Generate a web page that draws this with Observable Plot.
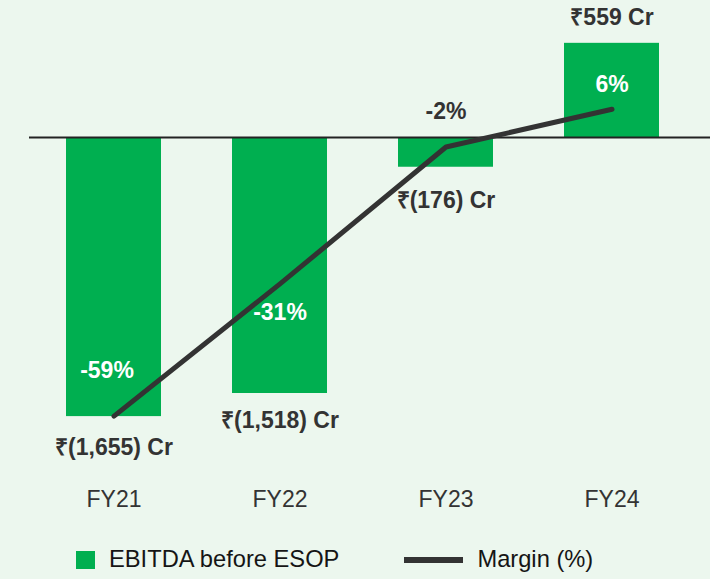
<!DOCTYPE html>
<html>
<head>
<meta charset="utf-8">
<script src="https://cdn.jsdelivr.net/npm/d3@7"></script>
<script src="https://cdn.jsdelivr.net/npm/@observablehq/plot@0.6"></script>
<style>
  html, body { margin: 0; padding: 0; background: #ECF7EE; }
  body { width: 710px; height: 579px; overflow: hidden; font-family: "Liberation Sans", Arial, sans-serif; }
  #legend { height: 39px; display: flex; align-items: center; padding-left: 76px; font-size: 23.7px; color: #151515; }
  .sw { width: 19px; height: 18px; background: #00AF50; margin-right: 14px; }
  .ln { width: 59px; height: 6px; background: #333; margin-left: 65px; margin-right: 14px; }
</style>
</head>
<body>
<div id="chart"></div>
<div id="legend"><span class="sw"></span><span>EBITDA before ESOP</span><span class="ln"></span><span>Margin (%)</span></div>
<script>
const years = ["FY21", "FY22", "FY23", "FY24"];
const ebitda = [-1655, -1518, -176, 559];
const ebitdaLabels = ["₹(1,655) Cr", "₹(1,518) Cr", "₹(176) Cr", "₹559 Cr"];
const margin = [-59, -31, -2, 6];
const marginLabels = ["-59%", "-31%", "-2%", "6%"];

// secondary axis ratio: Cr per percentage point
const crPerPct = 28;

const data = years.map((y, i) => ({
  year: y, ebitda: ebitda[i], elabel: ebitdaLabels[i],
  margin: margin[i], mpos: margin[i] * crPerPct, mlabel: marginLabels[i]
}));

// label offsets (styling)
const eOff = {FY21: 31, FY22: 27, FY23: 33, FY24: -26};
const mOff = {FY21: [-7, -45], FY22: [0, 29], FY23: [0, -35], FY24: [0, -25]};
const mFill = {FY21: "white", FY22: "white", FY23: "#333", FY24: "white"};

const labelMarks = [];
for (const d of data) {
  labelMarks.push(Plot.text([d], {x: "year", y: "ebitda", text: "elabel", dy: eOff[d.year], lineAnchor: "middle",
    fill: "#333", fontWeight: "bold", fontSize: 23}));
  labelMarks.push(Plot.text([d], {x: "year", y: "mpos", text: "mlabel", dx: mOff[d.year][0], dy: mOff[d.year][1], lineAnchor: "middle",
    fill: mFill[d.year], fontWeight: "bold", fontSize: 23}));
}

const chart = Plot.plot({
  width: 710,
  height: 540,
  marginLeft: 29,
  marginRight: 0,
  marginTop: 0,
  marginBottom: 60,
  style: {background: "transparent", fontFamily: "'Liberation Sans', Arial, sans-serif", color: "#333", overflow: "visible"},
  x: {type: "band", domain: years, paddingInner: 0.425, paddingOuter: 0.2515, align: 0.42, label: null},
  y: {domain: [-2034, 813], axis: null},
  marks: [
    Plot.barY(data, {x: "year", y: "ebitda", fill: "#00AF50"}),
    Plot.ruleY([0], {stroke: "#222", strokeWidth: 2}),
    Plot.line(data, {x: "year", y: "mpos", stroke: "#333", strokeWidth: 5, strokeLinecap: "round", strokeLinejoin: "round"}),
    Plot.axisX({tickSize: 0, tickPadding: 10, fontSize: 23, label: null}),
    ...labelMarks
  ]
});
document.getElementById("chart").appendChild(chart);
</script>
</body>
</html>
